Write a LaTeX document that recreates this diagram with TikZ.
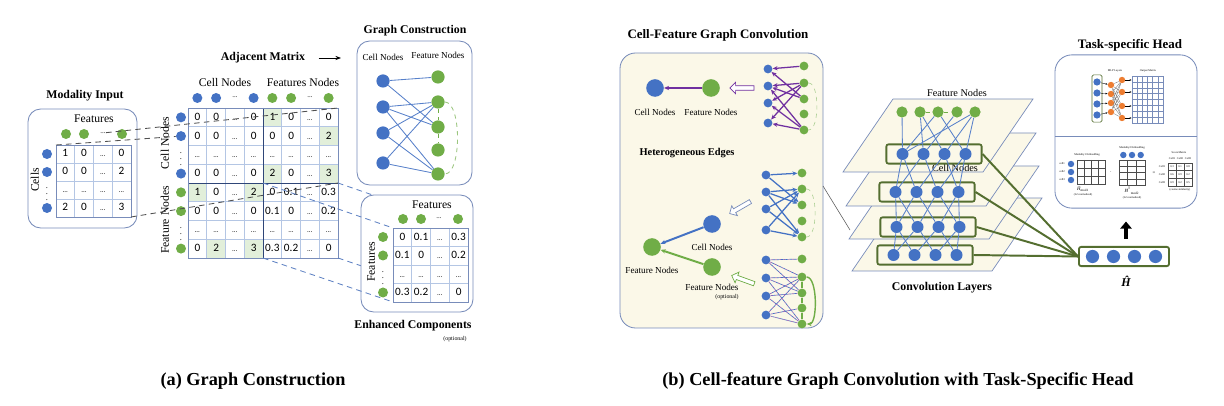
\documentclass[tikz,border=0pt]{standalone}
\usepackage{fontspec}
\usepackage{amsmath}
\setmainfont{Liberation Serif}
\newfontfamily\numfont{Carlito}
\usetikzlibrary{arrows.meta, positioning, calc, shapes.arrows}

\definecolor{cellblue}{RGB}{68,114,196}
\definecolor{featgreen}{RGB}{112,173,71}
\definecolor{mlporange}{RGB}{237,125,49}
\definecolor{boxline}{RGB}{120,140,186}
\definecolor{gridline}{RGB}{180,198,228}
\definecolor{gridbold}{RGB}{47,70,120}
\definecolor{shadegreen}{RGB}{226,239,218}
\definecolor{cream}{RGB}{251,248,232}
\definecolor{edgepurple}{RGB}{112,48,160}
\definecolor{layergreen}{RGB}{84,110,48}
\definecolor{projgray}{RGB}{80,80,80}
\definecolor{projblue}{RGB}{95,130,195}

\newcommand{\elli}{{\fontsize{5}{6}\selectfont...}}
\newcommand{\vdt}{{\fontsize{6}{6}\selectfont$\vdots$}}

\begin{document}
\begin{tikzpicture}[x=0.025cm, y=-0.025cm,
    cnode/.style={circle, fill=cellblue, inner sep=0pt, minimum size=#1},
    cnode/.default=0.25cm,
    fnode/.style={circle, fill=featgreen, inner sep=0pt, minimum size=#1},
    fnode/.default=0.25cm,
    onode/.style={circle, fill=mlporange, inner sep=0pt, minimum size=0.16cm},
    headtext/.style={font=\fontsize{8.4}{10}\selectfont\bfseries},
    bighead/.style={font=\fontsize{9.2}{11}\selectfont\bfseries},
    capt/.style={font=\fontsize{13}{15}\selectfont\bfseries},
    lbl/.style={font=\fontsize{8.3}{10}\selectfont},
    smalllbl/.style={font=\fontsize{6.5}{8}\selectfont},
    tinylbl/.style={font=\fontsize{3.4}{4}\selectfont, inner sep=0pt},
    microlbl/.style={font=\fontsize{2}{2.4}\selectfont, inner sep=0pt},
    num/.style={font=\numfont\fontsize{8}{9}\selectfont, inner sep=0pt, anchor=base},
    panel/.style={draw=boxline, line width=0.6pt, rounded corners=9pt, fill=white},
    proj/.style={projgray, line width=0.6pt, dash pattern=on 4pt off 3pt},
    projb/.style={projblue, line width=0.6pt, dash pattern=on 4pt off 3pt},
    gedge/.style={cellblue!90, line width=0.6pt},
    pedge/.style={edgepurple, line width=0.9pt, -{Stealth[length=3.5pt, width=3pt]}},
    bedge/.style={cellblue, line width=0.9pt, -{Stealth[length=3.5pt, width=3pt]}},
    pdash/.style={edgepurple!75, line width=0.5pt, dash pattern=on 1.5pt off 1.5pt},
    bdash/.style={cellblue, line width=0.5pt, dash pattern=on 1.5pt off 1.5pt, dash phase=1.5pt},
    hollow/.style={single arrow, draw=#1, fill=white, line width=0.5pt, minimum height=0.6cm, inner sep=1.3pt, single arrow head extend=2.5pt},
    layerbox/.style={draw=layergreen, line width=1.3pt, rounded corners=1.5pt, minimum width=2.38cm, minimum height=0.48cm, inner sep=0pt},
    minigrid/.style={draw=black!70, line width=0.3pt}
]
\useasboundingbox (0,0) rectangle (1224,406);

% ---------- (a) modality input
\node[headtext] (modtitle) at (85,96) {Modality Input};
\draw[panel] (28,109) rectangle (137,228);
\node[lbl] (modfeat) at (94,119) {Features};
\node[lbl, rotate=90] (modcells) at (35,180) {Cells};
\foreach \i in {1,...,3} {
  \draw[gridline] (56+18.75*\i,145) -- (56+18.75*\i,217);
  \draw[gridline] (56,145+18*\i) -- (131,145+18*\i);
}
\draw[boxline] (56,145) rectangle (131,217);
\foreach \vals [count=\r] in {{1,0,\elli,0},{0,0,\elli,2},{\elli,\elli,\elli,\elli},{2,0,\elli,3}}
  \foreach \v [count=\c] in \vals
    \node[num] (mod-\r-\c) at (56+18.75*\c-9.4,145+18*\r-6) {\v};
\foreach \y [count=\i] in {154,172,208} \node[cnode] (modc\i) at (47,\y) {};
\node[inner sep=0pt] (modcdots) at (47,190) {\vdt};
\foreach \x [count=\i] in {66,84,122} \node[fnode] (modf\i) at (\x,134) {};
\node[inner sep=0pt] (modfdots) at (103,133) {\elli};

% ---------- adjacent matrix
\node[headtext] (adjtitle) at (263,58) {Adjacent Matrix};
\coordinate (adjarrowend) at (341,58);
\draw[-{Stealth[length=4pt]}, line width=0.6pt] ([xshift=6pt]adjtitle.east) -- (adjarrowend);
\node[lbl] (adjcelllbl) at (225,83) {Cell Nodes};
\node[lbl] (adjfeatlbl) at (303,83) {Features Nodes};
\node[lbl, rotate=90] (adjcellside) at (165,143) {Cell Nodes};
\node[lbl, rotate=90] (adjfeatside) at (165,220) {Feature Nodes};
\foreach \r/\c in {1/5,2/8,4/5,4/8,5/1,5/4,8/2,8/4}
  \fill[shadegreen] (188+18.75*\c-18.75,108+18.75*\r-18.75) rectangle ++(18.75,18.75);
\foreach \i in {1,...,7} {
  \draw[gridline] (188+18.75*\i,108) -- (188+18.75*\i,258);
  \draw[gridline] (188,108+18.75*\i) -- (338,108+18.75*\i);
}
\draw[gridbold] (263,108) -- (263,258);
\draw[gridbold] (188,183) -- (338,183);
\draw[boxline] (188,108) rectangle (338,258);
\foreach \vals [count=\r] in {%
{0,0,\elli,0,1,0,\elli,0},%
{0,0,\elli,0,0,0,\elli,2},%
{\elli,\elli,\elli,\elli,\elli,\elli,\elli,\elli},%
{0,0,\elli,0,2,0,\elli,3},%
{1,0,\elli,2,0,0.1,\elli,0.3},%
{0,0,\elli,0,0.1,0,\elli,0.2},%
{\elli,\elli,\elli,\elli,\elli,\elli,\elli,\elli},%
{0,2,\elli,3,0.3,0.2,\elli,0}}
  \foreach \v [count=\c] in \vals
    \node[num] (adj-\r-\c) at (188+18.75*\c-9.4,108+18.75*\r-6.4) {\v};
\foreach \c in {1,2,4} \node[cnode] (adjtc\c) at (188+18.75*\c-9.4,98) {};
\foreach \c in {5,6,8} \node[fnode] (adjtf\c) at (188+18.75*\c-9.4,98) {};
\node[inner sep=0pt] (adjtd1) at (234.9,97) {\elli};
\node[inner sep=0pt] (adjtd2) at (309.9,97) {\elli};
\foreach \r in {1,2,4} \node[cnode] (adjlc\r) at (181,108+18.75*\r-9.4) {};
\foreach \r in {5,6,8} \node[fnode] (adjlf\r) at (181,108+18.75*\r-9.4) {};
\node[inner sep=0pt] (adjld1) at (181,155) {\vdt};
\node[inner sep=0pt] (adjld2) at (181,230) {\vdt};

% projection of the input matrix
\coordinate (modtl) at (56,145);
\coordinate (modbr) at (131,217);
\coordinate (adjtr) at (338,108);
\coordinate (adjmr) at (338,183);
\draw[proj] (modfdots) -- (adjtr);
\draw[proj] (modtl) -- (adjlc2);
\draw[proj] (modbr) -- (adjmr);

% ---------- graph construction
\node[headtext] (gctitle) at (415,31) {Graph Construction};
\draw[panel] (357,41) rectangle (472,185);
\node[smalllbl] (gccelllbl) at (383,57) {Cell Nodes};
\node[smalllbl] (gcfeatlbl) at (438,55) {Feature Nodes};
\foreach \y [count=\i] in {81,107,133,163} \node[cnode=0.33cm] (gcc\i) at (383,\y) {};
\foreach \y [count=\i] in {77,102,127,150,174} \node[fnode=0.33cm] (gcf\i) at (438,\y) {};
\foreach \a/\b in {1/1,1/3,2/2,2/3,2/5,3/2,3/5,4/2,4/5} \draw[gedge] (gcc\a) -- (gcf\b);
\draw[featgreen, dashed, line width=0.6pt] (gcf2) -- (gcf3) -- (gcf4);
\draw[featgreen!70, dashed, line width=0.6pt] (gcf2.east) to[out=0, in=0, looseness=0.6] (gcf5.east);

% ---------- enhanced components
\coordinate (blktl) at (263,183);
\coordinate (blkbl) at (263,258);
\coordinate (adjbr) at (338,258);
\coordinate (enhtl) at (393,228);
\coordinate (enhtr) at (468,228);
\coordinate (enhbl) at (393,302);
\coordinate (enhbr) at (468,302);
\draw[projb] (adjmr) -- (enhtr);
\draw[projb] (adjbr) -- (enhbr);
\draw[panel] (361,195) rectangle (473,312);
\draw[projb] (blktl) -- (enhtl);
\draw[projb] (blkbl) -- (enhbl);
\node[lbl] (enhfeat) at (432,205) {Features};
\node[lbl, rotate=90] (enhfeatside) at (371,262) {Features};
\foreach \i in {1,...,3} {
  \draw[gridline] (393+18.75*\i,228) -- (393+18.75*\i,302);
  \draw[gridline] (393,228+18.5*\i) -- (468,228+18.5*\i);
}
\draw[boxline] (393,228) rectangle (468,302);
\foreach \vals [count=\r] in {{0,0.1,\elli,0.3},{0.1,0,\elli,0.2},{\elli,\elli,\elli,\elli},{0.3,0.2,\elli,0}}
  \foreach \v [count=\c] in \vals
    \node[num] (enh-\r-\c) at (393+18.75*\c-9.4,228+18.5*\r-6.3) {\v};
\foreach \x [count=\i] in {403,421,458} \node[fnode] (enhtf\i) at (\x,219) {};
\node[inner sep=0pt] (enhtd) at (439,218) {\elli};
\foreach \y [count=\i] in {237,255.5,292.5} \node[fnode] (enhlf\i) at (383,\y) {};
\node[inner sep=0pt] (enhld) at (383,274) {\vdt};
\node[headtext] (enhtitle) at (413,326) {Enhanced Components};
\node[tinylbl, font=\fontsize{4.2}{5}\selectfont] (enhopt) at (455,339) {(optional)};

% ---------- (b) cell-feature graph convolution
\node[bighead] (cftitle) at (718,35) {Cell-Feature Graph Convolution};
\draw[panel, fill=cream, rounded corners=11pt] (620,53) rectangle (823,328);
\node[cnode=0.44cm] (pcell) at (655,88) {};
\node[fnode=0.44cm] (pfeat) at (711,88) {};
\draw[pedge, line width=1.3pt] (pfeat) -- (pcell);
\node[smalllbl, below=5pt of pcell] (pcelllbl) {Cell Nodes};
\node[smalllbl, below=5pt of pfeat] (pfeatlbl) {Feature Nodes};
\node[font=\fontsize{7.4}{9}\selectfont\bfseries] (hetlbl) at (687,153) {Heterogeneous Edges};
\node[hollow=edgepurple, rotate=180] (harr1) at (743,88) {};
\node[hollow=boxline, rotate=210] (harr2) at (741,207) {};
\node[hollow=featgreen, rotate=160] (harr3) at (744,280) {};
% feature -> cell edges
\foreach \y [count=\i] in {69,86,103,123} \node[cnode=0.22cm] (pgc\i) at (768,\y) {};
\foreach \y [count=\i] in {66,83,99,114,130} \node[fnode=0.22cm] (pgf\i) at (804,\y) {};
\foreach \a/\b in {1/1,1/3,2/2,2/3,2/5,3/2,3/5,4/2,4/5} \draw[pedge] (pgf\b) -- (pgc\a);
\draw[featgreen!60, dashed, line width=0.4pt] (pgf2.east) to[out=0, in=0, looseness=0.6] (pgf5.east);
% cell -> feature edges
\foreach \y [count=\i] in {175,192,209,230} \node[cnode=0.22cm] (bgc\i) at (766,\y) {};
\foreach \y [count=\i] in {173,189,205,221,237} \node[fnode=0.22cm] (bgf\i) at (802,\y) {};
\foreach \a/\b in {1/1,1/3,2/2,2/3,2/5,3/2,3/5,4/2,4/5} \draw[bedge] (bgc\a) -- (bgf\b);
\draw[featgreen!60, dashed, line width=0.4pt] (bgf2.east) to[out=0, in=0, looseness=0.6] (bgf5.east);
% feature -> feature edges
\foreach \y [count=\i] in {260,278,296,315} \node[cnode=0.22cm] (dgc\i) at (766,\y) {};
\foreach \y [count=\i] in {259,277,293,308,324} \node[fnode=0.22cm] (dgf\i) at (802,\y) {};
\foreach \a/\b in {1/1,1/3,2/2,2/3,2/5,3/2,3/5,4/2,4/5,1/2,3/3,4/4} {
  \draw[pdash] (dgc\a) -- (dgf\b);
  \draw[bdash] (dgc\a) -- (dgf\b);
}
\draw[featgreen, line width=1pt] (dgf2) -- (dgf3) -- (dgf4) -- (dgf5);
\draw[featgreen, line width=1pt, -{Stealth[length=3.5pt, width=3pt]}] (dgf2.east) to[out=0, in=0, looseness=0.6] (dgf5.east);
% aggregated views
\node[cnode=0.44cm] (hcell) at (712,224) {};
\node[fnode=0.44cm] (hfeat) at (652,247) {};
\node[fnode=0.44cm] (hopt) at (712,267) {};
\draw[bedge, line width=1.4pt] (hcell) -- (hfeat);
\draw[featgreen, line width=1.4pt, -{Stealth[length=3.5pt, width=3pt]}] (hopt) -- (hfeat);
\node[smalllbl, below=4pt of hcell] (hcelllbl) {Cell Nodes};
\node[smalllbl, below=4pt of hfeat] (hfeatlbl) {Feature Nodes};
\node[smalllbl, below=2pt of hopt] (hoptlbl) {Feature Nodes};
\node[tinylbl, font=\fontsize{4.2}{5}\selectfont] (hoptnote) at (727,297.5) {(optional)};

% ---------- convolution layers
\coordinate (cfexit) at (823,186);
\coordinate (convin) at (850,230);
\draw[black!65, line width=0.4pt] (cfexit) -- (convin);
\foreach \k/\t in {3/198,2/166,1/133,0/99}
  \filldraw[fill=cream, draw=boxline, line width=0.5pt]
    (893+3*\k,\t) -- (1033+3*\k,\t) -- (983+3*\k,\t+73) -- (843+3*\k,\t+73) -- cycle;
\node[font=\fontsize{7.3}{9}\selectfont] (cvfeatlbl) at (957,93) {Feature Nodes};
\node[font=\fontsize{7.3}{9}\selectfont] (cvcelllbl) at (955,168) {Cell Nodes};
\foreach \x [count=\i] in {902,920,938,957,975} \node[fnode=0.28cm] (cvf\i) at (\x,112) {};
\draw[featgreen, dashed, line width=0.6pt] (cvf2) -- (cvf3) -- (cvf4);
\foreach \k/\cx/\cy in {0/934/154,1/927/192,2/928/227,3/925/255} {
  \node[layerbox] (lay\k) at (\cx,\cy) {};
  \foreach \d [count=\i] in {-31.5,-10.5,10.5,31.5}
    \node[cnode=0.3cm] (cv\k-\i) at (\cx+\d,\cy) {};
}
\foreach \a/\b in {1/1,2/2,2/3,3/1,3/4,4/2,5/1,5/3,5/4} \draw[gedge] (cvf\a) -- (cv0-\b);
\foreach \k/\n in {0/1,1/2,2/3}
  \foreach \a/\b in {1/1,1/2,2/1,2/3,3/2,3/4,4/3,4/4} \draw[gedge] (cv\k-\a) -- (cv\n-\b);
\node[headtext] (convtitle) at (942,288) {Convolution Layers};

% ---------- embedding H
\node[layerbox, minimum width=2.25cm] (hhat) at (1124,256.5) {};
\foreach \d [count=\i] in {-31.5,-10.5,10.5,31.5} \node[cnode=0.33cm] (hh\i) at (1124+\d,256.5) {};
\node[font=\fontsize{8.5}{9}\selectfont\bfseries\itshape, inner sep=0pt] (hhatlbl) at (1126,281) {Ĥ};
\foreach \k in {0,...,3} \draw[layergreen, line width=1.4pt] (lay\k.east) -- (hhat.west);

% ---------- task-specific head
\node[bighead] (thtitle) at (1130,45) {Task-specific Head};
\node[panel, rounded corners=12pt, minimum width=3.55cm, minimum height=3.83cm] (taskbox) at (1126,131.5) {};
\draw[line width=2.4pt, -{Triangle[length=5pt, width=8pt]}] ($(hhat.north)+(2,-7)$) -- ($(taskbox.south)+(0,13)$);
\draw[boxline, line width=0.6pt] (1055,136) -- (1197,136);
% MLP layers
\node[draw=layergreen, line width=0.5pt, rounded corners=1pt, minimum width=0.25cm, minimum height=1.18cm, inner sep=0pt] (mlpin) at (1097,98.5) {};
\foreach \y [count=\i] in {82,93,104,115} \node[cnode=0.18cm] (mlpc\i) at (1097,\y) {};
\foreach \y [count=\i] in {85,94,103,112} \node[onode] (mlpa\i) at (1111,\y) {};
\foreach \y [count=\i] in {80,92,106,118} \node[onode] (mlpb\i) at (1122,\y) {};
\node[draw=boxline, line width=0.4pt, minimum width=0.78cm, minimum height=1.18cm, inner sep=0pt] (outgrid) at (1147.5,99.5) {};
\foreach \i in {1,...,5} \draw[boxline, line width=0.3pt] (1132+5.17*\i,76) -- (1132+5.17*\i,123);
\foreach \i in {1,...,7} \draw[boxline, line width=0.3pt] (1132,76+5.875*\i) -- (1163,76+5.875*\i);
\foreach \i in {1,...,4} {
  \draw[-{Stealth[length=1.5pt]}, line width=0.25pt] (mlpc\i) -- (mlpa\i);
  \draw[-{Stealth[length=1.5pt]}, line width=0.25pt] (mlpb\i) -- (mlpb\i -| outgrid.west);
  \foreach \j in {1,...,4} \draw[black!60, line width=0.2pt] (mlpa\i) -- (mlpb\j);
}
\node[microlbl] (mlplbl) at (1115,71) {MLP Layers};
\node[microlbl] (outlbl) at (1148,71) {Output Matrix};
% similarity part
\node[minigrid, minimum width=0.7cm, minimum height=0.6cm, inner sep=0pt] (emb1) at (1091,172) {};
\foreach \i in {1,2,3} \draw[minigrid] (1077+7*\i,160) -- (1077+7*\i,184);
\foreach \i in {1,2} \draw[minigrid] (1077,160+8*\i) -- (1105,160+8*\i);
\foreach \y [count=\i] in {164,172,180} {
  \node[cnode=0.16cm] (embc\i) at (1071,\y) {};
  \node[microlbl] (embclbl\i) at (1062,\y) {cell\i};
}
\node[microlbl] (emb1lbl) at (1087,155) {Modality1 Embedding};
\node[tinylbl] (emb1sym) at (1083,189) {\itshape\=H\textsubscript{\upshape mod1}};
\node[microlbl] (emb1note) at (1083,195) {(L2 normalized)};
\node[tinylbl] (dotop) at (1111,173) {·};
\node[minigrid, minimum width=0.65cm, minimum height=0.625cm, inner sep=0pt] (emb2) at (1132,172.5) {};
\foreach \i in {1,2} \draw[minigrid] (1119+8.67*\i,160) -- (1119+8.67*\i,185);
\foreach \i in {1,2,3} \draw[minigrid] (1119,160+6.25*\i) -- (1145,160+6.25*\i);
\foreach \x [count=\i] in {1123.3,1132,1140.7} \node[cnode=0.16cm] (embt\i) at (\x,155) {};
\node[microlbl] (emb2lbl) at (1132,148) {Modality2 Embedding};
\node[tinylbl] (emb2sym) at (1132,191) {\itshape\=H\textsuperscript{\upshape T}\textsubscript{\upshape mod2}};
\node[microlbl] (emb2note) at (1132,198) {(L2 normalized)};
\node[tinylbl] (eqop) at (1154,173) {=};
\node[minigrid, minimum width=0.6cm, minimum height=0.575cm, inner sep=0pt] (score) at (1180,174.5) {};
\foreach \i in {1,2} {
  \draw[minigrid] (1168+8*\i,163) -- (1168+8*\i,186);
  \draw[minigrid] (1168,163+7.67*\i) -- (1192,163+7.67*\i);
}
\foreach \vals [count=\r] in {{0.3,0.1,0.8},{0.6,0.9,0.2},{0.9,0.2,0.5}}
  \foreach \v [count=\c] in \vals
    \node[microlbl] (sc-\r-\c) at (1168+8*\c-4,163+7.67*\r-3.8) {\v};
\foreach \i in {1,2,3} {
  \node[microlbl] (sccol\i) at (1168+8*\i-4,159) {Cell\i};
  \node[microlbl] (scrow\i) at (1162,163+7.67*\i-3.8) {Cell\i};
}
\node[microlbl] (sclbl) at (1179,153) {Score Matrix};
\node[microlbl] (scnote) at (1180,190) {(cosine similarity)};

% ---------- captions
\node[capt] (capa) at (253,381) {(a) Graph Construction};
\node[capt] (capb) at (898,381) {(b) Cell-feature Graph Convolution with Task-Specific Head};
\end{tikzpicture}
\end{document}
